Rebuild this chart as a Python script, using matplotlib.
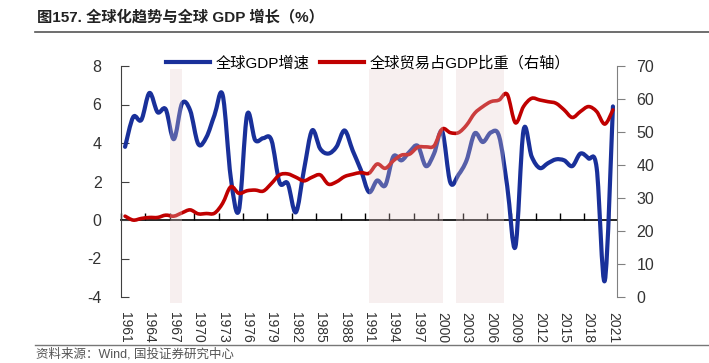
import numpy as np
import matplotlib
matplotlib.use("Agg")
import matplotlib.pyplot as plt
from matplotlib.path import Path
from matplotlib.patches import PathPatch
from matplotlib.lines import Line2D

plt.rcParams['font.family'] = ['Liberation Sans', 'Noto Sans CJK SC', 'DejaVu Sans']
plt.rcParams['axes.unicode_minus'] = False

years = list(range(1961, 2022))

gdp_growth = [3.8, 5.35, 5.2, 6.6, 5.6, 5.75, 4.2, 6.05, 5.7, 3.95,
              4.3, 5.45, 6.5, 2.2, 0.5, 5.45, 4.15, 4.25, 4.15, 1.95,
              1.9, 0.4, 2.6, 4.65, 3.7, 3.45, 3.8, 4.65, 3.6, 2.6,
              1.45, 2.05, 1.8, 3.3, 3.1, 3.55, 3.85, 2.8, 3.45, 4.6,
              1.95, 2.35, 3.1, 4.5, 4.05, 4.55, 4.35, 1.75, -1.4, 4.65,
              3.3, 2.7, 2.95, 3.15, 3.1, 2.8, 3.45, 3.2, 2.7, -3.15,
              5.9]

trade_share = [24.5, 23.3, 23.8, 24.1, 24.1, 24.8, 24.5, 25.5, 26.4, 25.2,
               25.3, 25.4, 28.4, 33.4, 31.4, 32.2, 32.4, 32.1, 34.4, 37.0,
               37.3, 36.3, 35.2, 36.3, 37.0, 34.2, 34.9, 36.5, 37.2, 37.7,
               37.5, 40.3, 39.0, 41.3, 43.0, 43.3, 45.4, 45.5, 45.8, 50.9,
               49.8, 49.8, 52.1, 55.7, 57.7, 59.2, 59.7, 61.4, 52.8, 57.7,
               60.2, 59.7, 59.2, 58.7, 56.7, 54.4, 56.2, 57.7, 56.2, 52.4,
               56.7]

shade_periods = [(1966.5, 1968.0), (1991.0, 2000.1), (2001.7, 2007.6)]

tick_years = years[::3]

BLUE = "#19309a"
RED = "#c00000"


def smooth_path(x, y):
    # excel-like smoothed line: catmull-rom segments as cubic beziers
    pts = np.column_stack([x, y]).astype(float)
    n = len(pts)
    verts = [pts[0]]
    codes = [Path.MOVETO]
    for i in range(n - 1):
        p0 = pts[max(i - 1, 0)]
        p1 = pts[i]
        p2 = pts[i + 1]
        p3 = pts[min(i + 2, n - 1)]
        verts += [p1 + (p2 - p0) / 6, p2 - (p3 - p1) / 6, p2]
        codes += [Path.CURVE4] * 3
    return Path(verts, codes)


fig = plt.figure(figsize=(7.09, 3.63), dpi=100)
ax = fig.add_axes([121 / 709, 1 - 297 / 363, 496 / 709, 231 / 363])
ax2 = ax.twinx()

ax.add_patch(PathPatch(smooth_path(years, gdp_growth), fill=False, ec=BLUE,
                       lw=3, capstyle='round', joinstyle='round', zorder=3))
ax2.add_patch(PathPatch(smooth_path(years, trade_share), fill=False, ec=RED,
                        lw=2.6, capstyle='round', joinstyle='round', zorder=3))

for start, end in shade_periods:
    ax2.axvspan(start, end, ymin=-0.025, ymax=0.985, color="#e6cccc",
                alpha=0.3, lw=0, zorder=5, clip_on=False)

ax.set_xlim(1960.5, 2021.5)
ax.set_ylim(-4, 8)
ax2.set_ylim(0, 70)

ax.set_yticks(range(-4, 9, 2))
ax2.set_yticks(range(0, 71, 10))

for s in ['top', 'right', 'bottom']:
    ax.spines[s].set_visible(False)
for s in ['top', 'left', 'bottom']:
    ax2.spines[s].set_visible(False)
ax.spines['left'].set_color("#404040")
ax2.spines['right'].set_color("#808080")

ax.tick_params(axis='y', direction='in', length=6, pad=14, labelsize=11.5,
               labelcolor="#333333", color="#404040")
ax2.tick_params(axis='y', direction='out', length=6, pad=8, labelsize=11.5,
                labelcolor="#333333", color="#808080")

ax.set_xticks(tick_years)
ax.set_xticklabels([str(y) for y in tick_years], rotation=270)
ax.tick_params(axis='x', length=0, pad=11, labelsize=10, labelcolor="#333333")

# zero line with the category ticks
zero = ax.secondary_xaxis(1 / 3)
zero.set_xticks([y - 0.5 for y in tick_years], labels=[])
zero.tick_params(direction='in', length=5, color="black", width=1)
zero.spines['bottom'].set_color("black")
zero.spines['bottom'].set_linewidth(1.2)

handles = [Line2D([], [], color=BLUE, lw=3),
           Line2D([], [], color=RED, lw=3)]
fig.legend(handles, ["全球GDP增速", "全球贸易占GDP比重（右轴）"],
           loc='center', bbox_to_anchor=(368 / 709, 1 - 63 / 363), ncol=2,
           frameon=False, fontsize=11, handlelength=2.9, handletextpad=0.35,
           columnspacing=0.7, borderpad=0)

fig.text(37 / 709, 1 - 17 / 363, "图157. 全球化趋势与全球 GDP 增长（%）",
         fontsize=11, fontweight='bold', color="#222222", va='center')
fig.add_artist(Line2D([35 / 709, 1], [1 - 32 / 363] * 2, color="#555555", lw=1.2))
fig.add_artist(Line2D([35 / 709, 1], [1 - 345 / 363] * 2, color="#777777", lw=1))
fig.text(36 / 709, 1 - 354 / 363, "资料来源：Wind, 国投证券研究中心",
         fontsize=9, color="#555555", va='center')

fig.savefig("out.png", dpi=100)
